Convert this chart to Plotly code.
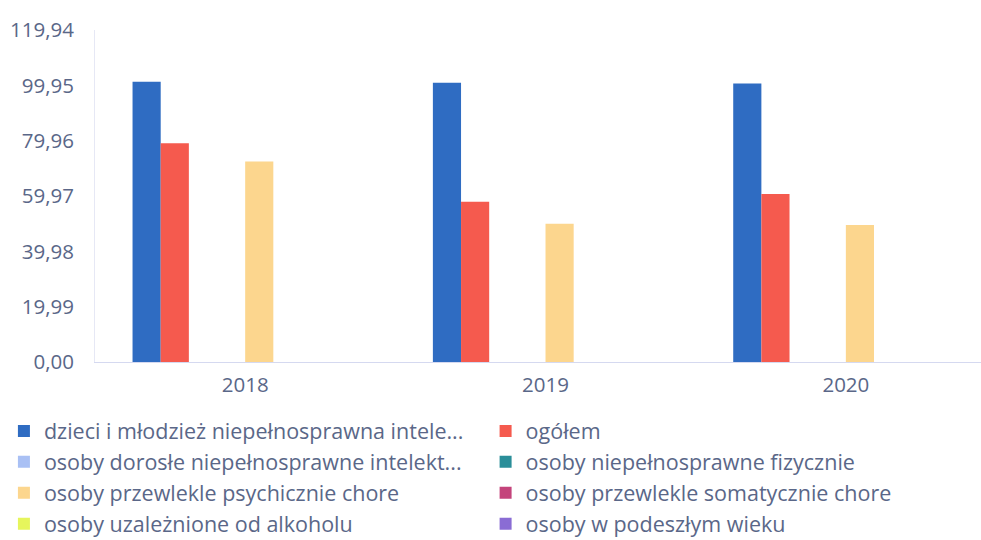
import plotly.graph_objects as go

years = ["2018", "2019", "2020"]

series_names = [
    "dzieci i młodzież niepełnosprawna intele...",
    "ogółem",
    "osoby dorosłe niepełnosprawne intelekt...",
    "osoby niepełnosprawne fizycznie",
    "osoby przewlekle psychicznie chore",
    "osoby przewlekle somatycznie chore",
    "osoby uzależnione od alkoholu",
    "osoby w podeszłym wieku",
]

dzieci = [101.2, 100.9, 100.6]
ogolem = [79.0, 57.9, 60.7]
dorosle = [0, 0, 0]
fizyczne = [0, 0, 0]
psychiczne = [72.4, 49.9, 49.5]
somatyczne = [0, 0, 0]
alkohol = [0, 0, 0]
wiek = [0, 0, 0]

tick_vals = [0, 19.99, 39.98, 59.97, 79.96, 99.95, 119.94]
tick_text = ["0,00", "19,99", "39,98", "59,97", "79,96", "99,95", "119,94"]

colors = ["#2f6cc2", "#f55a4e", "#a9c0f4", "#2a8e99",
          "#fcd68e", "#c4447b", "#e6f55c", "#8a6cd4"]

values = [dzieci, ogolem, dorosle, fizyczne, psychiczne, somatyczne, alkohol, wiek]

text_color = "#5a6788"

fig = go.Figure()

# one trace per group of people; legend is laid out in two columns
for i, (name, vals, col) in enumerate(zip(series_names, values, colors)):
    fig.add_trace(
        go.Bar(
            x=years,
            y=vals,
            name=name,
            marker=dict(color=col, line=dict(width=0)),
            legend="legend" if i % 2 == 0 else "legend2",
        )
    )

legend_style = dict(
    orientation="v",
    xref="container",
    yref="container",
    y=0.24,
    xanchor="left",
    yanchor="top",
    font=dict(family="Open Sans", size=21.5, color=text_color),
    itemsizing="constant",
    tracegroupgap=0,
    bgcolor="rgba(0,0,0,0)",
)

fig.update_layout(
    width=981,
    height=540,
    barmode="group",
    bargap=0.25,
    bargroupgap=0,
    plot_bgcolor="white",
    paper_bgcolor="white",
    font=dict(family="Open Sans", size=20.5, color=text_color),
    margin=dict(l=95, r=0, t=30, b=178, autoexpand=False),
    showlegend=True,
    legend=dict(x=0.004, **legend_style),
    legend2=dict(x=0.495, **legend_style),
)

fig.update_xaxes(
    type="category",
    range=[-0.5, 2.45],
    showline=True,
    linecolor="#d5d9f0",
    linewidth=1,
    showgrid=False,
    ticks="",
    automargin=False,
    ticklabelstandoff=4,
    tickfont=dict(size=20.5, color=text_color),
)

fig.update_yaxes(
    range=[0, 119.94],
    tickvals=tick_vals,
    ticktext=tick_text,
    showline=True,
    linecolor="#e6e8f5",
    linewidth=1,
    showgrid=False,
    zeroline=False,
    ticks="",
    automargin=False,
    ticklabelstandoff=16,
    tickfont=dict(size=20.5, color=text_color),
)

fig.write_html(
    "out.html",
    config={"displayModeBar": False},
    post_script="document.body.style.margin='0';document.body.style.overflow='hidden';",
)
